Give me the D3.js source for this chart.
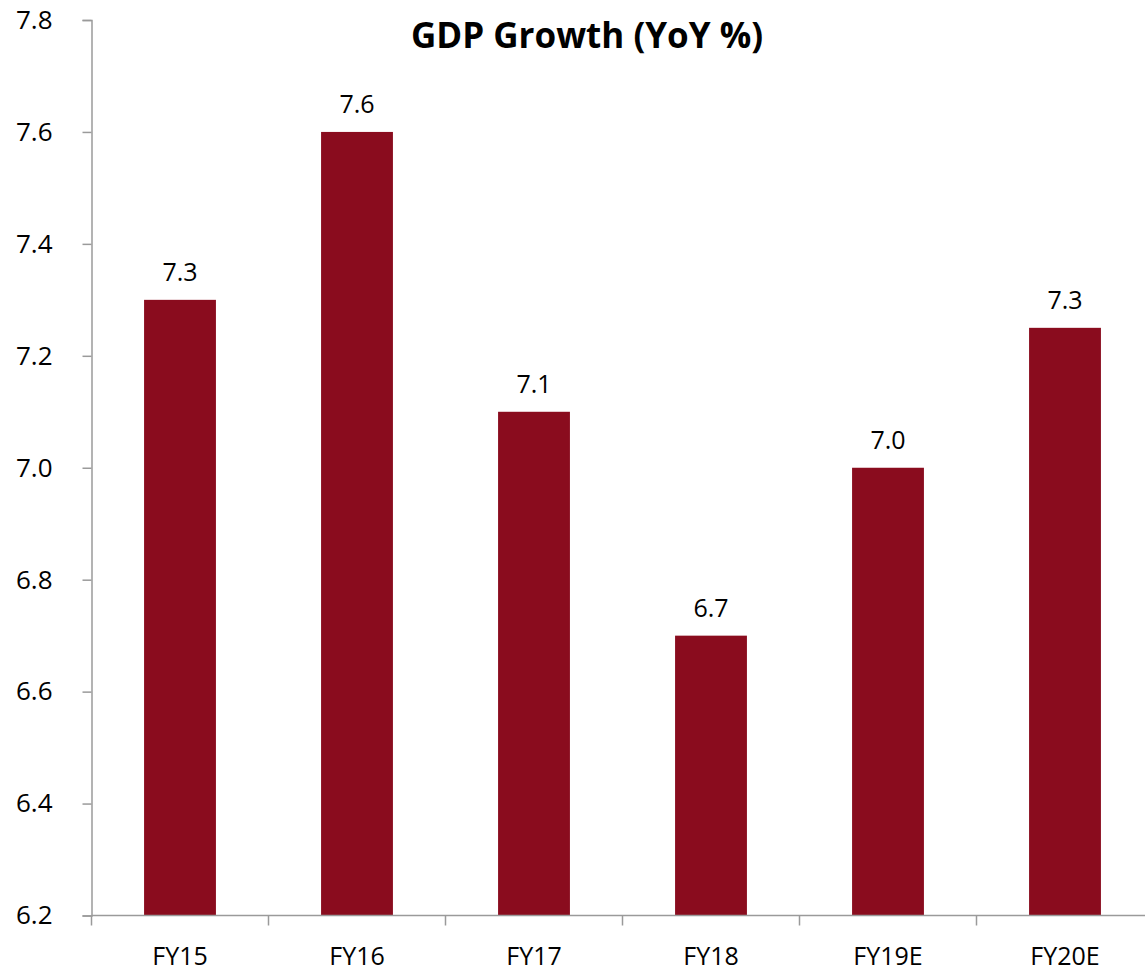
<!DOCTYPE html>
<html>
<head>
<meta charset="utf-8">
<script src="https://cdn.jsdelivr.net/npm/d3@7"></script>
<style>
  body { margin: 0; background: #fff; }
  text { font-family: "Open Sans", "Liberation Sans", sans-serif; }
</style>
</head>
<body>
<script>
const categories = ["FY15", "FY16", "FY17", "FY18", "FY19E", "FY20E"];
const growth = [7.3, 7.6, 7.1, 6.7, 7.0, 7.25];
const yTicks = [6.2, 6.4, 6.6, 6.8, 7.0, 7.2, 7.4, 7.6, 7.8];

const width = 1145, height = 974;
const plot = { left: 91.5, right: 1153.5, top: 20, bottom: 915.5 };

const svg = d3.select("body").append("svg")
  .attr("width", width)
  .attr("height", height);

const x = d3.scaleBand()
  .domain(categories)
  .range([plot.left, plot.right])
  .paddingInner(0.594)
  .paddingOuter(0.297);

const y = d3.scaleLinear()
  .domain([6.2, 7.8])
  .range([plot.bottom, plot.top]);

// bars
svg.selectAll("rect.bar")
  .data(growth)
  .enter()
  .append("rect")
  .attr("class", "bar")
  .attr("x", (d, i) => x(categories[i]))
  .attr("width", x.bandwidth())
  .attr("y", d => y(d))
  .attr("height", d => y(6.2) - y(d))
  .attr("fill", "#8a0c1e");

// value labels
svg.selectAll("text.val")
  .data(growth)
  .enter()
  .append("text")
  .attr("class", "val")
  .attr("x", (d, i) => x(categories[i]) + x.bandwidth() / 2)
  .attr("y", d => y(d) - 19)
  .attr("text-anchor", "middle")
  .attr("font-size", 25)
  .attr("fill", "#000")
  .text(d => d.toFixed(1));

// y axis
const yAxis = svg.append("g")
  .attr("transform", `translate(${plot.left},0)`)
  .call(d3.axisLeft(y).tickValues(yTicks).tickFormat(d3.format(".1f")).tickSize(9).tickPadding(30));
yAxis.selectAll("line, path").attr("stroke", "#9a9a9a").attr("stroke-width", 1.5);
yAxis.selectAll("text").attr("font-size", 26).attr("fill", "#000")
  .attr("font-family", "'Open Sans', 'Liberation Sans', sans-serif");

// x axis with boundary ticks between categories
const xAxis = svg.append("g")
  .attr("transform", `translate(0,${plot.bottom})`);
xAxis.append("line")
  .attr("x1", plot.left).attr("x2", plot.right)
  .attr("stroke", "#9a9a9a").attr("stroke-width", 1.5);
const step = x.step();
xAxis.selectAll("line.tk")
  .data(d3.range(categories.length + 1))
  .enter()
  .append("line")
  .attr("class", "tk")
  .attr("x1", i => plot.left + i * step)
  .attr("x2", i => plot.left + i * step)
  .attr("y1", 0).attr("y2", 10)
  .attr("stroke", "#9a9a9a").attr("stroke-width", 1.5);
xAxis.selectAll("text")
  .data(categories)
  .enter()
  .append("text")
  .attr("x", d => x(d) + x.bandwidth() / 2)
  .attr("y", 49)
  .attr("text-anchor", "middle")
  .attr("font-size", 25)
  .attr("fill", "#000")
  .text(d => d);

// title
svg.append("text")
  .attr("x", 587)
  .attr("y", 48)
  .attr("text-anchor", "middle")
  .attr("font-size", 35)
  .attr("font-weight", "bold")
  .attr("fill", "#000")
  .text("GDP Growth (YoY %)");
</script>
</body>
</html>
